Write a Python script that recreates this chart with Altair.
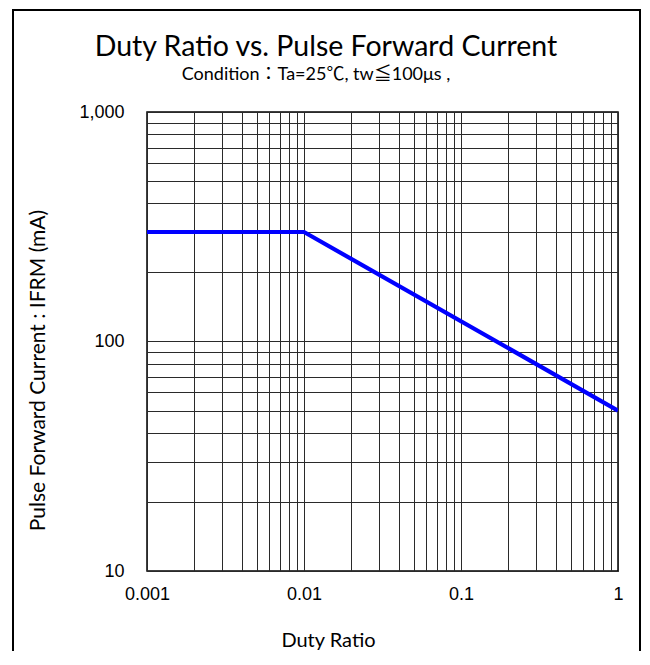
import altair as alt
import pandas as pd

# Data
duty = [0.001, 0.01, 1.0]
current = [300, 300, 50]

x_grid = [m * d for d in (0.001, 0.01, 0.1) for m in range(1, 10)] + [1.0]
y_grid = [m * d for d in (10, 100) for m in range(1, 10)] + [1000]

title_text = "Duty Ratio vs. Pulse Forward Current"
subtitle_text = "Condition：Ta=25℃, tw≦100μs ,"

df = pd.DataFrame({"duty": duty, "current": current})

W, H = 471, 459

x_enc = alt.X(
    "duty:Q",
    scale=alt.Scale(type="log", domain=[0.001, 1], nice=False),
    axis=alt.Axis(
        values=x_grid,
        format="~g",
        labelExpr="indexof([0.001,0.01,0.1,1], datum.value) >= 0 ? datum.label : ''",
        title="Duty Ratio",
        titleX=181,
        titleY=69,
        titleAlign="center",
        titleBaseline="middle",
        titleFontSize=20,
        labelPadding=14,
        labelFlush=False,
        labelOverlap=False,
    ),
)
y_enc = alt.Y(
    "current:Q",
    scale=alt.Scale(type="log", domain=[10, 1000], nice=False),
    axis=alt.Axis(
        values=y_grid,
        format=",",
        labelExpr="indexof([10,100,1000], datum.value) >= 0 ? datum.label : ''",
        title="Pulse Forward Current : IFRM (mA)",
        titleX=-109,
        titleY=258,
        titleAlign="center",
        titleBaseline="middle",
        titleAngle=270,
        titleFontSize=21,
        labelPadding=23,
        labelFlush=False,
        labelOverlap=False,
    ),
)

line = alt.Chart(df).mark_line(color="#0000FF", strokeWidth=4.2, clip=True).encode(
    x=x_enc, y=y_enc
)

one = alt.Data(values=[{}])

frame = alt.Chart(one).mark_rect(
    fill=None, filled=False, stroke="black", strokeWidth=2, clip=False
).encode(
    x=alt.value(-134),
    x2=alt.value(493),
    y=alt.value(-102),
    y2=alt.value(620),
)

title = alt.Chart(one).mark_text(
    font="Lato", fontSize=28.5, color="black", align="center", baseline="alphabetic"
).encode(x=alt.value(179), y=alt.value(-56), text=alt.value(title_text))

subtitle = alt.Chart(one).mark_text(
    font="Lato, Noto Sans CJK JP", fontSize=18, color="black", align="center",
    baseline="alphabetic"
).encode(x=alt.value(169), y=alt.value(-32), text=alt.value(subtitle_text))

chart = (
    alt.layer(line, frame, title, subtitle)
    .properties(
        width=W,
        height=H,
        autosize=alt.AutoSizeParams(type="none"),
        padding={"left": 139, "top": 104, "right": 24, "bottom": 80},
    )
    .configure_view(stroke="black", strokeWidth=1.5)
    .configure_axis(
        grid=True,
        gridColor="#2a2a2a",
        gridWidth=1,
        gridOpacity=1,
        ticks=False,
        domain=False,
        labelFont="Liberation Sans",
        labelFontSize=18,
        labelColor="black",
        titleFont="Lato",
        titleFontWeight="normal",
        titleColor="black",
    )
)

chart.save("out.html", embed_options={"renderer": "svg", "actions": False})
